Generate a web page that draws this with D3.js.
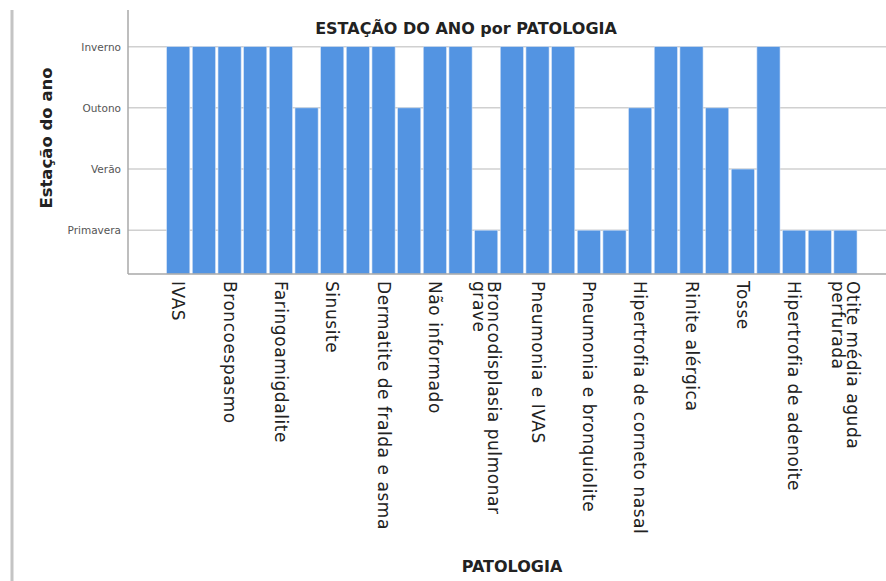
<!DOCTYPE html>
<html>
<head>
<meta charset="utf-8">
<script src="https://cdn.jsdelivr.net/npm/d3@7"></script>
<style>
  html, body { margin: 0; padding: 0; background: #fff; }
  svg { display: block; }
</style>
</head>
<body>
<svg id="chart" width="886" height="581"></svg>
<script>
// ---- data ----
// 27 bars (one per category); SPSS only printed every other label.
const categories = [
  "IVAS", "", "Broncoespasmo", "", "Faringoamigdalite", "", "Sinusite", "",
  "Dermatite de fralda e asma", "", "Não informado", "",
  "Broncodisplasia pulmonar grave", "", "Pneumonia e IVAS", "",
  "Pneumonia e bronquiolite", "", "Hipertrofia de corneto nasal", "",
  "Rinite alérgica", "", "Tosse", "", "Hipertrofia de adenoite", "",
  "Otite média aguda perfurada"
];
// 1 = Primavera, 2 = Verão, 3 = Outono, 4 = Inverno
const seasonValues = [4, 4, 4, 4, 4, 3, 4, 4, 4, 3, 4, 4, 1, 4, 4, 4, 1, 1, 3, 4, 4, 3, 2, 4, 1, 1, 1];
const tickValues = [1, 2, 3, 4];
const tickLabels = ["Primavera", "Verão", "Outono", "Inverno"];
const wrappedLabels = {
  "Broncodisplasia pulmonar grave": ["Broncodisplasia pulmonar", "grave"],
  "Otite média aguda perfurada": ["Otite média aguda", "perfurada"]
};

const svg = d3.select("#chart");
const axisX = 128, plotRight = 886, baseY = 274, topY = 10;

const x = d3.scaleBand().domain(d3.range(categories.length))
  .range([166.7, 857]).paddingInner(0.1).paddingOuter(0);
const y = d3.scaleLinear().domain([0.284, 4.6]).range([baseY, topY]);

// left frame line
svg.append("line").attr("x1", 12).attr("x2", 12).attr("y1", 10).attr("y2", 581)
  .attr("stroke", "#c4c4c4").attr("stroke-width", 3);

// gridlines
svg.append("g").selectAll("line").data(tickValues).join("line")
  .attr("x1", axisX).attr("x2", plotRight)
  .attr("y1", d => y(d)).attr("y2", d => y(d))
  .attr("stroke", "#d0d0d0").attr("stroke-width", 1.5);

// y axis
const yAxis = d3.axisLeft(y).tickValues(tickValues)
  .tickFormat((d, i) => tickLabels[i]).tickSize(0).tickPadding(7);
const gy = svg.append("g").attr("transform", `translate(${axisX},0)`).call(yAxis);
gy.select(".domain").remove();
gy.selectAll("text").attr("font-family", "DejaVu Sans, sans-serif")
  .attr("font-size", 10.5).attr("fill", "#555");

// bars
svg.append("g").selectAll("rect").data(seasonValues).join("rect")
  .attr("x", (d, i) => x(i)).attr("width", x.bandwidth())
  .attr("y", d => y(d)).attr("height", d => baseY - y(d))
  .attr("fill", "#5394e2").attr("stroke", "#cfe0f6").attr("stroke-width", 0.6);

// axis lines
svg.append("line").attr("x1", axisX).attr("x2", axisX).attr("y1", topY).attr("y2", baseY)
  .attr("stroke", "#a8a8a8").attr("stroke-width", 1.5);
svg.append("line").attr("x1", axisX).attr("x2", plotRight).attr("y1", baseY).attr("y2", baseY)
  .attr("stroke", "#a8a8a8").attr("stroke-width", 1.5);

// x labels
const lab = svg.append("g").selectAll("g")
  .data(categories.map((c, i) => ({ c, i })).filter(d => d.c !== ""))
  .join("g")
  .attr("transform", d => `translate(${x(d.i) + x.bandwidth() / 2},${baseY + 7}) rotate(90)`);
lab.each(function (d) {
  const lines = wrappedLabels[d.c] || [d.c];
  const t = d3.select(this).append("text")
    .attr("font-family", "DejaVu Sans, sans-serif").attr("font-size", 17)
    .attr("letter-spacing", 0.55)
    .attr("fill", "#222").attr("text-anchor", "start");
  const off = lines.length === 1 ? 0.35 : -0.1;
  lines.forEach((ln, k) => {
    t.append("tspan").attr("x", 0).attr("y", 0)
      .attr("dy", (off + k * 0.9) + "em").text(ln);
  });
});

// titles
svg.append("text").attr("x", 466).attr("y", 34).attr("text-anchor", "middle")
  .attr("font-family", "DejaVu Sans, sans-serif").attr("font-weight", "bold")
  .attr("font-size", 16).attr("fill", "#222").text("ESTAÇÃO DO ANO por PATOLOGIA");
svg.append("text").attr("transform", "translate(52,138) rotate(-90)").attr("text-anchor", "middle")
  .attr("font-family", "DejaVu Sans, sans-serif").attr("font-weight", "bold")
  .attr("font-size", 16.5).attr("fill", "#222").text("Estação do ano");
svg.append("text").attr("x", 512).attr("y", 572).attr("text-anchor", "middle")
  .attr("font-family", "DejaVu Sans, sans-serif").attr("font-weight", "bold")
  .attr("font-size", 16).attr("fill", "#222").text("PATOLOGIA");
</script>
</body>
</html>
